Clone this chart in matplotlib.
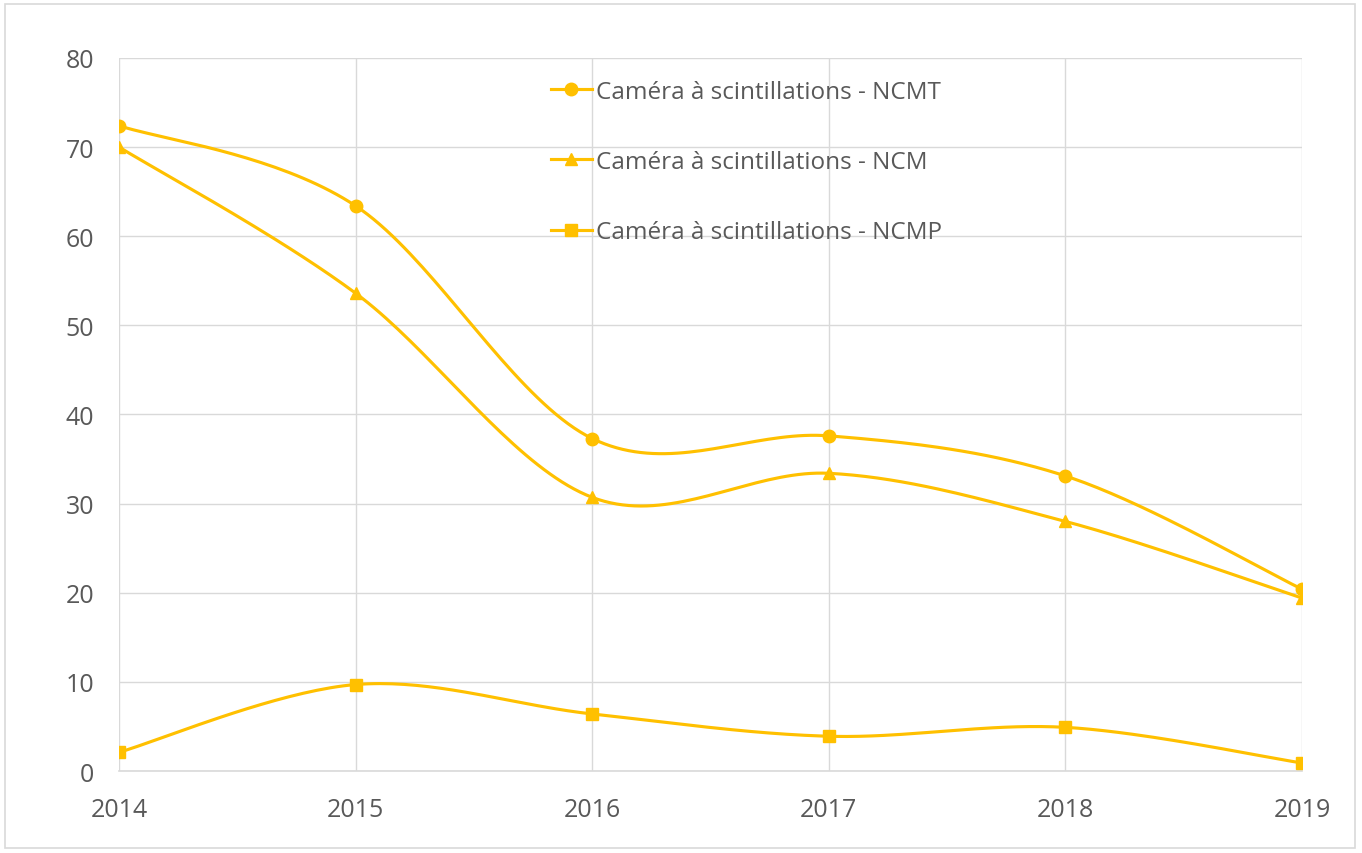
import numpy as np
import matplotlib
matplotlib.use("Agg")
import matplotlib.pyplot as plt
from matplotlib.patches import Rectangle

plt.rcParams['font.family'] = ['Open Sans', 'DejaVu Sans']

years = [2014, 2015, 2016, 2017, 2018, 2019]
ncmt = [72.4, 63.4, 37.3, 37.6, 33.1, 20.4]
ncm = [70.0, 53.6, 30.7, 33.4, 28.0, 19.4]
ncmp = [2.1, 9.7, 6.4, 3.9, 4.9, 0.9]
labels = ['Caméra à scintillations - NCMT',
          'Caméra à scintillations - NCM',
          'Caméra à scintillations - NCMP']

gold = '#FFC000'
grid = '#D9D9D9'
txt = '#595959'


def smooth(x, y, n=40):
    # excel-like smoothed line: cubic bezier with catmull-rom control points
    x = np.asarray(x, float)
    y = np.asarray(y, float)
    px = np.concatenate([[x[0]], x, [x[-1]]])
    py = np.concatenate([[y[0]], y, [y[-1]]])
    xs, ys = [], []
    t = np.linspace(0, 1, n)
    for i in range(len(x) - 1):
        p0 = np.array([px[i + 1], py[i + 1]])
        p3 = np.array([px[i + 2], py[i + 2]])
        c1 = p0 + (np.array([px[i + 2], py[i + 2]]) - np.array([px[i], py[i]])) / 6
        c2 = p3 - (np.array([px[i + 3], py[i + 3]]) - np.array([px[i + 1], py[i + 1]])) / 6
        b = ((1 - t) ** 3)[:, None] * p0 + (3 * (1 - t) ** 2 * t)[:, None] * c1 \
            + (3 * (1 - t) * t ** 2)[:, None] * c2 + (t ** 3)[:, None] * p3
        xs.extend(b[:, 0])
        ys.extend(b[:, 1])
    return xs, ys


fig = plt.figure(figsize=(13.62, 8.54), dpi=100)
fig.patches.append(Rectangle((0.004, 0.006), 0.991, 0.988, transform=fig.transFigure,
                             fill=False, edgecolor=grid, linewidth=1.2))
ax = fig.add_axes([0.0874, 0.096, 0.8686, 0.835])

series = [(ncmt, 'o', 9), (ncm, '^', 9), (ncmp, 's', 8.5)]
for (vals, mk, ms), lab in zip(series, labels):
    sx, sy = smooth(years, vals)
    ax.plot(sx, sy, color=gold, lw=2.25, solid_capstyle='round', zorder=3)
    ax.plot(years, vals, linestyle='none', marker=mk, ms=ms, color=gold, zorder=4)
    ax.plot([], [], color=gold, lw=2.25, marker=mk, ms=ms, label=lab)

ax.set_xlim(2014, 2019)
ax.set_ylim(0, 80)
ax.set_xticks(years)
ax.set_yticks(range(0, 81, 10))
ax.grid(True, color=grid, lw=1)
ax.set_axisbelow(True)
for s in ['top', 'right', 'left']:
    ax.spines[s].set_visible(False)
ax.spines['bottom'].set_color(grid)
ax.spines['bottom'].set_linewidth(1.2)
ax.tick_params(length=0, labelsize=18, labelcolor=txt)
ax.tick_params(axis='x', pad=19)
ax.tick_params(axis='y', pad=18)

leg = ax.legend(loc='upper left', bbox_to_anchor=(0.347, 1.0), frameon=False,
                fontsize=17.5, labelcolor=txt, handlelength=1.65, handletextpad=0.2,
                labelspacing=1.9)

fig.savefig('out.png', dpi=100)
